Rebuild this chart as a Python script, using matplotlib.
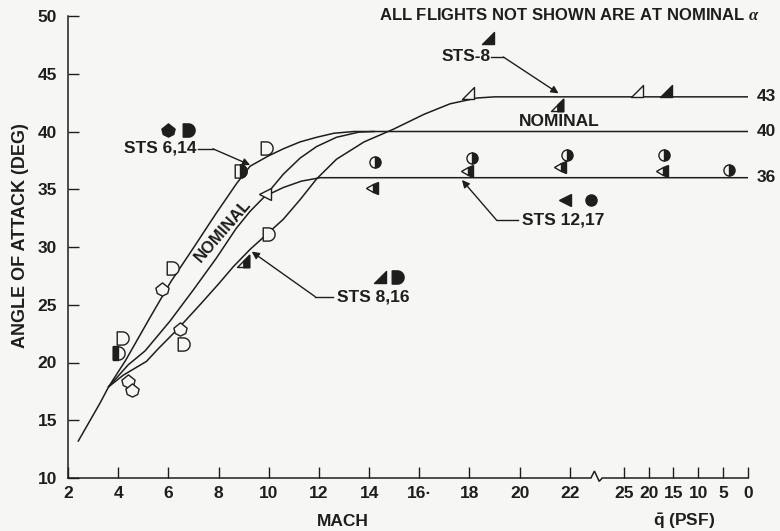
import numpy as np
import matplotlib
matplotlib.use("Agg")
import matplotlib.pyplot as plt
from matplotlib.path import Path

plt.rcParams['font.family'] = ['Liberation Sans', 'DejaVu Sans']
plt.rcParams['font.weight'] = 'bold'
plt.rcParams['mathtext.fontset'] = 'custom'
plt.rcParams['mathtext.rm'] = 'Liberation Sans:bold'
plt.rcParams['mathtext.bf'] = 'Liberation Sans:bold'
plt.rcParams['mathtext.it'] = 'Liberation Serif:italic'

INK = '#1e1e1e'
BG = '#f6f6f4'

# ---------------- data ----------------
# common entry segment (Mach, alpha)
common_mach = [2.41, 3.28, 3.62]
common_aoa = [13.2, 16.5, 17.9]

# STS 6,14 profile (upper-left), ends on 40 deg
sts614_mach = [3.62, 4.3, 5.27, 6.1, 6.9, 7.9, 8.72, 9.26, 10.0, 10.58, 11.25, 11.91, 12.6, 13.4]
sts614_aoa = [17.9, 20.2, 23.9, 27.0, 29.6, 32.9, 35.5, 37.0, 37.9, 38.5, 39.1, 39.5, 39.85, 40.0]

# Nominal profile, ends on 40 deg
nom_mach = [3.62, 4.4, 5.07, 6.07, 7.0, 7.9, 8.7, 9.26, 9.85, 10.58, 11.25, 11.91, 12.7, 13.6, 14.2]
nom_aoa = [17.9, 19.8, 21.0, 23.6, 26.3, 29.0, 31.6, 33.1, 34.4, 36.3, 37.7, 38.7, 39.5, 39.95, 40.0]

# STS 8,16 / STS-8 profile, ends on 43 deg
sts816_mach = [3.62, 4.2, 5.13, 5.6, 6.33, 7.26, 8.0, 8.59, 9.26, 10.58, 11.25, 11.91, 12.7, 13.8,
               14.97, 16.2, 17.23, 18.3, 19.0]
sts816_aoa = [17.9, 18.9, 20.1, 21.2, 22.8, 25.0, 26.8, 28.3, 29.8, 32.4, 34.1, 35.9, 37.6, 39.1,
              40.2, 41.5, 42.4, 42.9, 43.0]

# STS 12,17 branch, ends on 36 deg
sts1217_mach = [9.85, 10.58, 11.3, 12.05]
sts1217_aoa = [34.4, 35.15, 35.7, 36.0]

# plateau levels (deg) continued to qbar = 0
levels = [43, 40, 36]

# qbar (psf) tick values on the right-hand scale
q_ticks = [25, 20, 15, 10, 5, 0]
mach_ticks = [2, 4, 6, 8, 10, 12, 14, 16, 18, 20, 22]
mach_labels = ['2', '4', '6', '8', '10', '12', '14', '16·', '18', '20', '22']

# flight data symbols (Mach region)
d_open_mach = [4.14, 6.13, 9.88, 9.98, 6.6]
d_open_aoa = [22.1, 28.2, 38.6, 31.1, 21.6]
house_open_mach = [4.4, 4.54, 5.74, 6.47]
house_open_aoa = [18.4, 17.6, 26.4, 22.9]
d_leftfill_mach = [4.0]
d_leftfill_aoa = [20.8]
d_rightfill_mach = [8.86]
d_rightfill_aoa = [36.6]
rtri_half_mach = [8.96, 21.5]
rtri_half_aoa = [28.8, 42.3]
rtri_open_mach = [17.96]
rtri_open_aoa = [43.3]
circ_half_mach = [14.24, 18.1, 21.88]
circ_half_aoa = [37.4, 37.7, 38.0]
ltri_half_mach = [14.1, 17.9, 21.6]
ltri_half_aoa = [35.1, 36.6, 36.9]
ltri_open_mach = [9.85]
ltri_open_aoa = [34.6]

# flight data symbols (qbar region, psf)
rtri_open_q = [22.4]
rtri_open_q_aoa = [43.5]
rtri_fill_q = [16.6]
rtri_fill_q_aoa = [43.5]
circ_half_q = [17.0, 3.8]
circ_half_q_aoa = [38.0, 36.7]
ltri_half_q = [17.3]
ltri_half_q_aoa = [36.6]

# ---------------- scale helpers ----------------
X_END = 29.1          # axis end (qbar = 0)
Q_PER_UNIT = (29.1 - 24.15) / 25.0


def qpos(q):
    return X_END - np.asarray(q, dtype=float) * Q_PER_UNIT


# ---------------- marker shapes ----------------
t = np.linspace(-np.pi / 2, np.pi / 2, 25)
D_PATH = Path(np.vstack([[[-0.8, -1.0], [0, -1.0]],
                         np.column_stack([np.cos(t), np.sin(t)]),
                         [[-0.8, 1.0], [-0.8, -1.0]]]), closed=True)
D_RIGHT = Path(np.vstack([np.column_stack([np.cos(t), np.sin(t)]), [[0, -1.0]]]), closed=True)
D_LEFT = Path([[-0.8, -1.0], [0, -1.0], [0, 1.0], [-0.8, 1.0], [-0.8, -1.0]], closed=True)
RTRI = Path([[-1, -1], [1, -1], [1, 1], [-1, -1]], closed=True)
RTRI_R = Path([[0.05, -1], [1, -1], [1, 1], [0.05, 0.05], [0.05, -1]], closed=True)
HOUSE = Path([[0, 1], [-1, 0.2], [-0.8, -0.6], [0, -1], [0.8, -0.6], [1, 0.2], [0, 1]], closed=True)

# ---------------- figure ----------------
fig = plt.figure(figsize=(7.8, 5.31), dpi=100, facecolor=BG)
ax = fig.add_axes([68 / 780, 53 / 531, 680 / 780, 462 / 531])
ax.set_facecolor(BG)
ax.set_xlim(2, X_END)
ax.set_ylim(10, 50)

LW = 1.1
ax.plot(common_mach, common_aoa, color=INK, lw=LW)
ax.plot(sts614_mach + [X_END], sts614_aoa + [levels[1]], color=INK, lw=LW)
ax.plot(nom_mach, nom_aoa, color=INK, lw=LW)
ax.plot(sts816_mach + [X_END], sts816_aoa + [levels[0]], color=INK, lw=LW)
ax.plot(sts1217_mach + [X_END], sts1217_aoa + [levels[2]], color=INK, lw=LW)

MS = 9.5
common_kw = dict(ls='none', mec=INK, mew=1.0, zorder=5, clip_on=False)


def pts(xs, ys, marker, filled, ms=MS):
    ax.plot(xs, ys, marker=marker, ms=ms, mfc=INK if filled else BG, **common_kw)


pts(d_open_mach, d_open_aoa, D_PATH, False)
pts(house_open_mach, house_open_aoa, HOUSE, False)
pts(d_leftfill_mach, d_leftfill_aoa, D_PATH, False)
pts(d_leftfill_mach, d_leftfill_aoa, D_LEFT, True)
pts(d_rightfill_mach, d_rightfill_aoa, D_PATH, False)
pts(d_rightfill_mach, d_rightfill_aoa, D_RIGHT, True)
pts(rtri_half_mach, rtri_half_aoa, RTRI, False, 9)
pts(rtri_half_mach, rtri_half_aoa, RTRI_R, True, 9)
pts(rtri_open_mach, rtri_open_aoa, RTRI, False, 9)
pts(qpos(rtri_open_q), rtri_open_q_aoa, RTRI, False, 9)
pts(qpos(rtri_fill_q), rtri_fill_q_aoa, RTRI, True, 9)
pts(ltri_open_mach, ltri_open_aoa, '<', False, 8.5)

half_kw = dict(ls='none', mec=INK, mfc=INK, mfcalt=BG, mew=1.0, zorder=5)
ax.plot(circ_half_mach, circ_half_aoa, marker='o', ms=8, fillstyle='right', **half_kw)
ax.plot(qpos(circ_half_q), circ_half_q_aoa, marker='o', ms=8, fillstyle='right', **half_kw)
ax.plot(ltri_half_mach, ltri_half_aoa, marker='<', ms=8.5, fillstyle='right', **half_kw)
ax.plot(qpos(ltri_half_q), ltri_half_q_aoa, marker='<', ms=8.5, fillstyle='right', **half_kw)

# legend symbols next to labels
pts([6.0], [40.13], HOUSE, True)
pts([6.77], [40.13], D_PATH, True)
pts([18.72], [48.07], RTRI, True, 9)
pts([14.44], [27.43], RTRI, True, 9)
pts([15.1], [27.43], D_PATH, True)
ax.plot([21.82], [34.07], marker='<', ms=8.5, mfc=INK, **common_kw)
ax.plot([22.84], [34.07], marker='o', ms=8, mfc=INK, **common_kw)

# ---------------- annotations ----------------
FS = 12.5
akw = dict(arrowstyle='-|>', color=INK, lw=1.0, mutation_scale=11, shrinkA=0, shrinkB=0)


def callout(text, text_xy, ha, line_pts, tip):
    ax.text(text_xy[0], text_xy[1], text, ha=ha, va='center', fontsize=FS, fontweight='bold', color=INK)
    xs, ys = zip(*line_pts)
    ax.plot(xs, ys, color=INK, lw=1.0)
    ax.annotate('', xy=tip, xytext=line_pts[-1], arrowprops=akw)


callout('STS 6,14', (7.14, 38.55), 'right', [(7.18, 38.5), (7.78, 38.5)], (9.26, 37.1))
callout('STS-8', (18.83, 46.5), 'right', [(18.87, 46.45), (19.35, 46.45)], (21.55, 43.3))
callout('STS 12,17', (20.09, 32.3), 'left', [(19.95, 32.3), (19.09, 32.3)], (17.7, 35.8))
callout('STS 8,16', (12.71, 25.7), 'left', [(12.58, 25.7), (11.85, 25.7)], (9.32, 29.6))

ax.text(8.18, 31.4, 'NOMINAL', rotation=49, ha='center', va='center', fontsize=12,
        fontweight='bold', color=INK, rotation_mode='anchor')
ax.text(21.58, 40.85, 'NOMINAL', ha='center', va='center', fontsize=12.5, fontweight='bold', color=INK)

for lv in levels:
    ax.text(29.45, lv, str(lv), ha='left', va='center', fontsize=FS, fontweight='bold',
            color=INK, clip_on=False)

fig.text(760 / 780, 1 - 15 / 531, 'ALL FLIGHTS NOT SHOWN ARE AT NOMINAL $\\alpha$', ha='right',
         va='center', fontsize=12, fontweight='bold', color=INK)

# ---------------- axes ----------------
for s in ['top', 'right', 'bottom']:
    ax.spines[s].set_visible(False)
ax.spines['left'].set_color(INK)
ax.spines['left'].set_linewidth(1.1)

# bottom axis line with break
ax.plot([2, 22.84, 22.98, 23.17, 23.29, X_END], [10, 10, 10.6, 9.71, 10, 10], color=INK, lw=1.1,
        clip_on=False, solid_joinstyle='miter')

xt = list(mach_ticks) + list(qpos(q_ticks))
xl = mach_labels + [str(q) for q in q_ticks]
ax.set_xticks(xt, xl)
ax.set_yticks(np.arange(10, 51, 5))
ax.tick_params(axis='both', direction='in', length=8, width=1.0, color=INK, labelsize=12.5,
               labelcolor=INK)
ax.tick_params(axis='x', pad=6)
ax.tick_params(axis='y', pad=8)
for lab in ax.get_xticklabels() + ax.get_yticklabels():
    lab.set_fontweight('bold')

fig.text(343 / 780, 1 - 521 / 531, 'MACH', ha='center', va='center', fontsize=12.5,
         fontweight='bold', color=INK)
fig.text(684 / 780, 1 - 521 / 531, r'$\bar{\mathbf{q}}$ (PSF)', ha='center', va='center',
         fontsize=12.5, fontweight='bold', color=INK)
fig.text(21 / 780, 1 - 236 / 531, 'ANGLE OF ATTACK (DEG)', rotation=90, ha='center', va='center',
         fontsize=13, fontweight='bold', color=INK)

fig.savefig('out.png', dpi=100, facecolor=BG)
